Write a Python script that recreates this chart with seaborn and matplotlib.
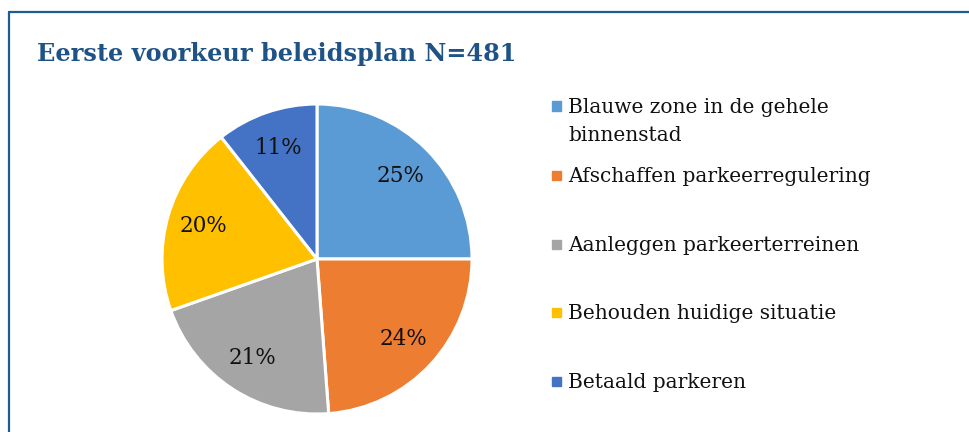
import matplotlib
matplotlib.use("Agg")
import matplotlib.pyplot as plt
import seaborn as sns
from matplotlib.lines import Line2D
from matplotlib.patches import Rectangle

# ---- data ----
categories = [
    "Blauwe zone in de gehele\nbinnenstad",
    "Afschaffen parkeerregulering",
    "Aanleggen parkeerterreinen",
    "Behouden huidige situatie",
    "Betaald parkeren",
]
shares = [25.0, 23.8, 20.8, 19.8, 10.6]
colors = ["#5B9BD5", "#ED7D31", "#A5A5A5", "#FFC000", "#4472C4"]
title = "Eerste voorkeur beleidsplan N=481"

sns.set_theme(style="white")
plt.rcParams["font.family"] = ["DejaVu Serif"]
sns.set_palette(colors)

fig = plt.figure(figsize=(9.70, 4.32), dpi=100)
W, H = 970, 432

def fx(x):
    return x / W

def fy(y):
    return 1 - y / H

# border (top and left)
border_col = "#1F5B94"
fig.add_artist(Line2D([fx(9), fx(970)], [fy(12), fy(12)], color=border_col, lw=1.6))
fig.add_artist(Line2D([fx(9), fx(9)], [fy(12), fy(432)], color=border_col, lw=1.6))

# title
fig.text(fx(37), fy(61), title, color="#1F5385", fontsize=17.3, fontweight="bold",
         ha="left", va="baseline", family="DejaVu Serif")

# pie
cx, cy, r = 317, 259, 155
ax = fig.add_axes([fx(cx - r), fy(cy + r), 2 * r / W, 2 * r / H])
wedges, texts, autotexts = ax.pie(
    shares, colors=colors, startangle=90, counterclock=False,
    autopct="%.0f%%", pctdistance=0.76,
    wedgeprops=dict(edgecolor="white", linewidth=2.2),
    textprops=dict(fontsize=15.5, color="#111111"),
)
ax.set_xlim(-1, 1)
ax.set_ylim(-1, 1)
ax.set_aspect("equal")
ax.axis("off")

# legend (manual)
legend_base = [113, 182, 251, 319, 388]
for lab, col, yb in zip(categories, colors, legend_base):
    fig.add_artist(Rectangle((fx(552), fy(yb - 2.5)), 9 / W, 9 / H, color=col,
                             transform=fig.transFigure))
    for i, line in enumerate(lab.split("\n")):
        fig.text(fx(568), fy(yb + 28 * i), line, fontsize=14.5, color="#111111",
                 ha="left", va="baseline")

fig.savefig("out.png", dpi=100, facecolor="white")
